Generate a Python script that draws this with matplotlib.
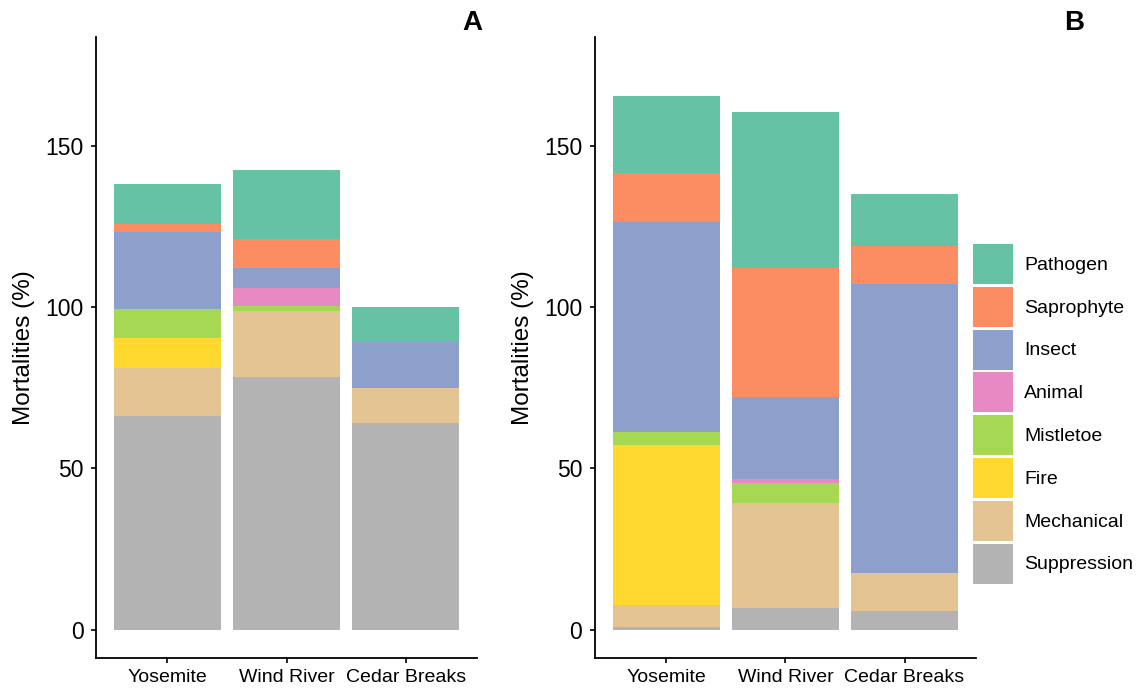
import matplotlib.pyplot as plt
from matplotlib.patches import Patch

plt.rcParams['font.family'] = ['Liberation Sans', 'DejaVu Sans']

sites = ['Yosemite', 'Wind River', 'Cedar Breaks']
causes = ['Suppression', 'Mechanical', 'Fire', 'Mistletoe', 'Animal',
          'Insect', 'Saprophyte', 'Pathogen']
colors = ['#B3B3B3', '#E5C494', '#FFD92F', '#A6D854', '#E78AC3',
          '#8DA0CB', '#FC8D62', '#66C2A5']

# panel A, one list per cause (Yosemite, Wind River, Cedar Breaks)
a_suppression = [66.3, 78.2, 64.1]
a_mechanical = [14.8, 20.6, 10.8]
a_fire = [9.2, 0.0, 0.0]
a_mistletoe = [9.0, 1.5, 0.0]
a_animal = [0.0, 5.5, 0.0]
a_insect = [24.0, 6.4, 14.3]
a_saprophyte = [2.4, 9.0, 0.0]
a_pathogen = [12.5, 21.4, 10.7]

# panel B
b_suppression = [1.0, 6.8, 5.9]
b_mechanical = [6.7, 32.4, 11.6]
b_fire = [49.7, 0.0, 0.0]
b_mistletoe = [3.8, 6.2, 0.0]
b_animal = [0.0, 1.3, 0.0]
b_insect = [65.1, 25.5, 89.7]
b_saprophyte = [15.4, 40.0, 11.9]
b_pathogen = [23.8, 48.3, 16.0]

panel_a = [a_suppression, a_mechanical, a_fire, a_mistletoe, a_animal,
           a_insect, a_saprophyte, a_pathogen]
panel_b = [b_suppression, b_mechanical, b_fire, b_mistletoe, b_animal,
           b_insect, b_saprophyte, b_pathogen]

fig = plt.figure(figsize=(11.42, 6.9), dpi=100)
ax_a = fig.add_axes([0.0841, 0.0464, 0.3336, 0.9])
ax_b = fig.add_axes([0.5210, 0.0464, 0.3336, 0.9])

x = range(len(sites))
for ax, panel in [(ax_a, panel_a), (ax_b, panel_b)]:
    bottom = [0.0] * len(sites)
    for vals, col in zip(panel, colors):
        ax.bar(x, vals, width=0.9, bottom=bottom, color=col, linewidth=0)
        bottom = [b + v for b, v in zip(bottom, vals)]
    ax.set_xlim(-0.6, 2.6)
    ax.set_ylim(-8.75, 183.75)
    ax.set_xticks(list(x))
    ax.set_xticklabels(sites, fontsize=14)
    ax.set_yticks([0, 50, 100, 150])
    ax.tick_params(axis='y', labelsize=16.5, length=3.6, width=1.2, pad=5.5,
                   colors='black')
    ax.tick_params(axis='x', length=3.6, width=1.2, pad=4)
    ax.set_ylabel('Mortalities (%)', fontsize=17.5, labelpad=7)
    for s in ['top', 'right']:
        ax.spines[s].set_visible(False)
    for s in ['left', 'bottom']:
        ax.spines[s].set_linewidth(1.3)

fig.text(472 / 1142, 1 - 23 / 690, 'A', fontsize=20, fontweight='bold',
         ha='center', va='center')
fig.text(1074 / 1142, 1 - 23 / 690, 'B', fontsize=20, fontweight='bold',
         ha='center', va='center')

handles = [Patch(facecolor=c, edgecolor='none') for c in colors[::-1]]
fig.legend(handles, causes[::-1], loc='upper left',
           bbox_to_anchor=(0.852, 0.6464), frameon=False, fontsize=14,
           handlelength=2.06, handleheight=2.78, labelspacing=0.15,
           handletextpad=0.57, borderpad=0, borderaxespad=0)

fig.savefig('out.png', dpi=100)
